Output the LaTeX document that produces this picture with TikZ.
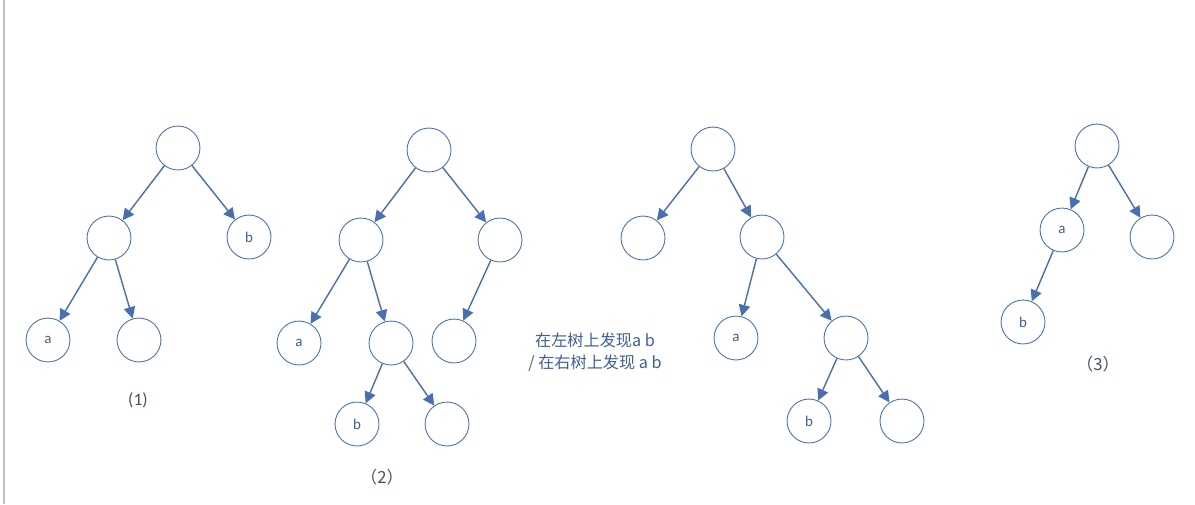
\documentclass[tikz,border=0pt]{standalone}
\usepackage{fontspec}
\setmainfont{Carlito}
\newfontfamily\cjk{Noto Sans CJK SC}
\usepackage{tikz}
\usetikzlibrary{positioning, arrows.meta}
\definecolor{TreeBlue}{RGB}{68,114,196}
\definecolor{LineBlue}{RGB}{70,110,185}
\definecolor{TextBlue}{RGB}{60,95,160}
\definecolor{LabelGray}{RGB}{68,84,106}
\definecolor{EdgeGray}{RGB}{191,191,191}
\tikzset{
  tnode/.style={circle, draw=TreeBlue, line width=0.5pt, minimum size=25pt, inner sep=0pt,
    font=\fontsize{8.5}{10}\selectfont, text=TextBlue},
  edge/.style={LineBlue, line width=0.8pt, -{Triangle[length=6.5pt, width=6.5pt]}},
  caption/.style={font=\fontsize{10}{12}\selectfont, text=LabelGray},
  note/.style={font=\cjk\fontsize{9.2}{12.5}\selectfont, text=TextBlue, align=center}
}

\begin{document}
\begin{tikzpicture}[x=0.02cm, y=-0.02cm]
\useasboundingbox (0,0) rectangle (1195,504);
\draw[EdgeGray, line width=1pt] (4,0) -- (4,504);

% tree (1)
\node[tnode] (r1) at (178,148) {};
\node[tnode] (l1) at (109,238) {};
\node[tnode] (b1) at (249,237) {b};
\node[tnode] (a1) at (48,340) {a};
\node[tnode] (e1) at (139,340) {};
\draw[edge] (r1) -- (l1);
\draw[edge] (r1) -- (b1);
\draw[edge] (l1) -- (a1);
\draw[edge] (l1) -- (e1);
\node[caption] (c1) at (138,400) {(1)};

% tree (2)
\node[tnode] (r2) at (429,150) {};
\node[tnode] (l2) at (361,240) {};
\node[tnode] (q2) at (500,240) {};
\node[tnode] (a2) at (299,343) {a};
\node[tnode] (m2) at (391,343) {};
\node[tnode] (e2) at (454,341) {};
\node[tnode] (b2) at (357,424) {b};
\node[tnode] (f2) at (447,424) {};
\draw[edge] (r2) -- (l2);
\draw[edge] (r2) -- (q2);
\draw[edge] (l2) -- (a2);
\draw[edge] (l2) -- (m2);
\draw[edge] (q2) -- (e2);
\draw[edge] (m2) -- (b2);
\draw[edge] (m2) -- (f2);
\node[caption, font=\cjk\fontsize{9.5}{11}\selectfont] (c2) at (382,477) {（2）};

% middle note
\node[note] (n1) at (595,352) {在左树上发现a b\\/ 在右树上发现 a b};

% right-hand tree
\node[tnode] (r3) at (713,149) {};
\node[tnode] (l3) at (643,238) {};
\node[tnode] (q3) at (762,237) {};
\node[tnode] (a3) at (736,338) {a};
\node[tnode] (m3) at (846,338) {};
\node[tnode] (b3) at (809,421) {b};
\node[tnode] (f3) at (902,421) {};
\draw[edge] (r3) -- (l3);
\draw[edge] (r3) -- (q3);
\draw[edge] (q3) -- (a3);
\draw[edge] (q3) -- (m3);
\draw[edge] (m3) -- (b3);
\draw[edge] (m3) -- (f3);

% tree (3)
\node[tnode] (r4) at (1097,146) {};
\node[tnode] (a4) at (1062,230) {a};
\node[tnode] (q4) at (1152,237) {};
\node[tnode] (b4) at (1023,322) {b};
\draw[edge] (r4) -- (a4);
\draw[edge] (r4) -- (q4);
\draw[edge] (a4) -- (b4);
\node[caption, font=\cjk\fontsize{9.5}{11}\selectfont] (c3) at (1098,364) {（3）};
\end{tikzpicture}
\end{document}
